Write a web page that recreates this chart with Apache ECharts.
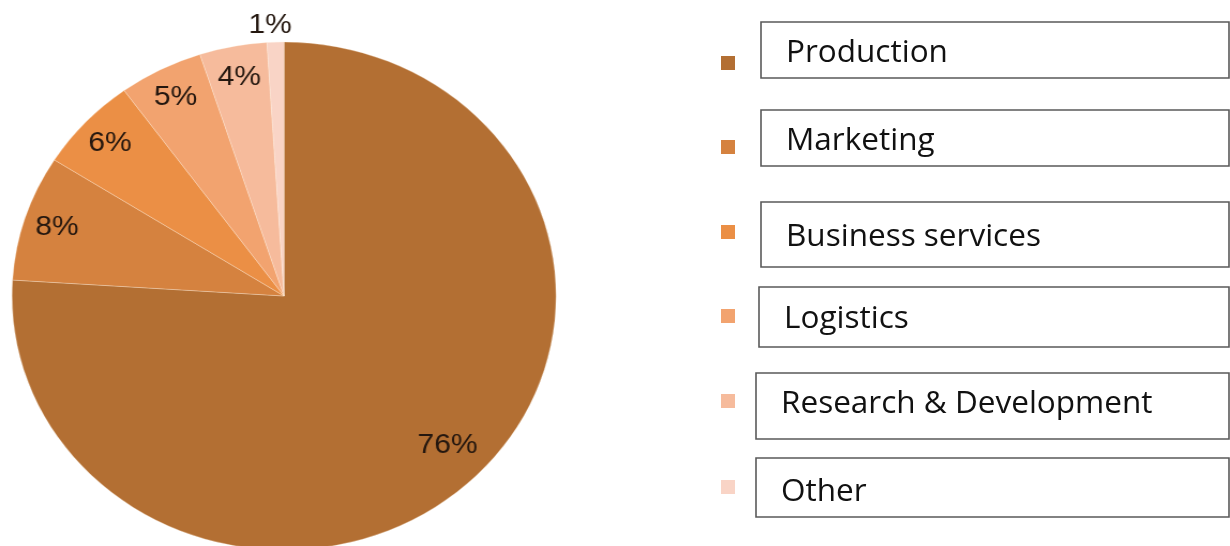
<!DOCTYPE html>
<html>
<head>
<meta charset="utf-8">
<script src="https://cdn.jsdelivr.net/npm/echarts@6/dist/echarts.min.js"></script>
<style>
  html, body { margin: 0; padding: 0; background: #fff; }
  #wrap { position: relative; width: 1230px; height: 546px; overflow: hidden; background: #fff; }
  #pie { position: absolute; left: 0; top: 0; width: 600px; height: 546px; transform: scaleX(1.071); transform-origin: 0 0; }
  #legend { position: absolute; left: 0; top: 0; width: 1230px; height: 546px; }
</style>
</head>
<body>
<div id="wrap">
  <div id="pie"></div>
  <div id="legend"></div>
</div>
<script>
// ---- data ----
const categories = ['Production', 'Marketing', 'Business services', 'Logistics', 'Research & Development', 'Other'];
const shares = [76, 8, 6, 5, 4, 1];
const labels = ['76%', '8%', '6%', '5%', '4%', '1%'];
const colors = ['#B36F33', '#D5823F', '#EB8F45', '#F2A36F', '#F6BB9C', '#F9D4C6'];

// ---- legend layout (box x, box top, box bottom, square center y, text x, text y) ----
const legendLayout = [
  { bx: 761, y0: 22, y1: 78, sy: 63, tx: 786, ty: 53 },
  { bx: 761, y0: 110, y1: 166, sy: 147, tx: 786, ty: 141 },
  { bx: 761, y0: 202, y1: 267, sy: 232, tx: 786, ty: 237 },
  { bx: 759, y0: 287, y1: 347, sy: 316, tx: 784, ty: 319 },
  { bx: 756, y0: 373, y1: 439, sy: 401, tx: 781, ty: 404 },
  { bx: 756, y0: 458, y1: 517, sy: 487, tx: 781, ty: 492 }
];

const pieCenter = [265.2, 296];
const pieR = 254;

const pieData = categories.map((c, i) => ({ name: c, value: shares[i], itemStyle: { color: colors[i] } }));
const labelData = categories.map((c, i) => {
  const d = { name: c, value: shares[i], label: { formatter: labels[i] } };
  if (i === 0) d.label.offset = [0, -13];
  if (i === 5) d.label.offset = [-6, -48];
  return d;
});

const pieChart = echarts.init(document.getElementById('pie'), null, { renderer: 'canvas' });
pieChart.setOption({
  animation: false,
  series: [
    {
      type: 'pie',
      center: pieCenter,
      radius: [0, pieR],
      startAngle: 90,
      clockwise: true,
      silent: true,
      label: { show: false },
      labelLine: { show: false },
      itemStyle: { borderWidth: 0.6, borderColor: 'rgba(255,240,225,0.5)' },
      data: pieData
    },
    {
      type: 'pie',
      center: pieCenter,
      radius: [186, pieR],
      startAngle: 90,
      clockwise: true,
      silent: true,
      avoidLabelOverlap: false,
      labelLayout: { hideOverlap: false },
      itemStyle: { color: 'rgba(0,0,0,0)', borderWidth: 0 },
      labelLine: { show: false },
      label: {
        show: true,
        position: 'inside',
        fontFamily: 'Liberation Sans, Arial, sans-serif',
        fontSize: 28,
        color: '#24170f'
      },
      data: labelData
    }
  ]
});

const legendChart = echarts.init(document.getElementById('legend'), null, { renderer: 'canvas' });
const graphics = [];
categories.forEach((c, i) => {
  const L = legendLayout[i];
  graphics.push({
    type: 'rect',
    shape: { x: 721, y: L.sy - 7, width: 14, height: 14 },
    style: { fill: colors[i] }
  });
  graphics.push({
    type: 'rect',
    shape: { x: L.bx, y: L.y0, width: 1229 - L.bx, height: L.y1 - L.y0 },
    style: { fill: '#fff', stroke: '#5a5a5a', lineWidth: 1.6 }
  });
  graphics.push({
    type: 'text',
    x: L.tx,
    y: L.ty,
    style: {
      text: c,
      fontFamily: 'Open Sans, Noto Sans, sans-serif',
      fontSize: 31.5,
      fill: '#111',
      verticalAlign: 'middle',
      align: 'left'
    }
  });
});
legendChart.setOption({ animation: false, graphic: { elements: graphics } });
</script>
</body>
</html>
